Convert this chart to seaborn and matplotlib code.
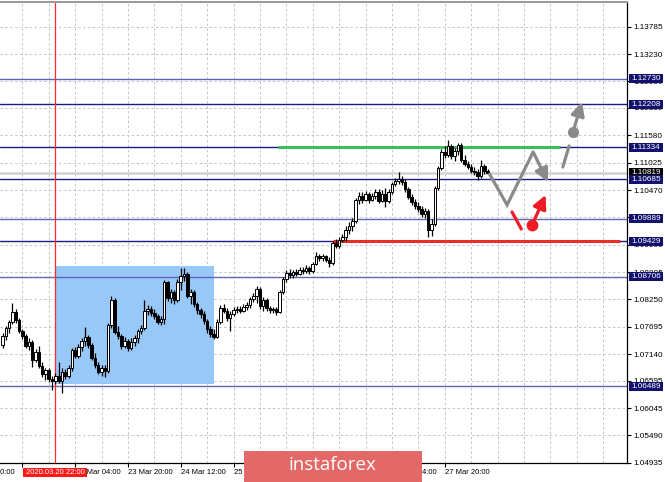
import matplotlib
matplotlib.use("Agg")
import matplotlib.pyplot as plt
import matplotlib.transforms as mtransforms
from matplotlib.patches import Rectangle
import seaborn as sns

sns.set_theme(style="white")
plt.rcParams['font.family'] = ['Liberation Sans', 'DejaVu Sans']

# ---------------- data ----------------
bars = list(range(-6, 142))  # hourly bar index (0 = 20 Mar 12:00)

opens = [
    1.0733, 1.0751, 1.0767, 1.0779, 1.0800, 1.0783,
    1.0761, 1.0751, 1.0731, 1.0739, 1.0702, 1.0718, 1.0690, 1.0674, 1.0682, 1.0664,
    1.0659, 1.0670, 1.0659, 1.0678, 1.0670, 1.0686, 1.0722, 1.0710, 1.0729, 1.0741,
    1.0749, 1.0733, 1.0706, 1.0692, 1.0678, 1.0686, 1.0680, 1.0773, 1.0824, 1.0759,
    1.0751, 1.0731, 1.0741, 1.0727, 1.0739, 1.0747, 1.0761, 1.0767, 1.0802, 1.0806,
    1.0798, 1.0791, 1.0779, 1.0785, 1.0860, 1.0828, 1.0840, 1.0824, 1.0860, 1.0873,
    1.0877, 1.0832, 1.0840, 1.0816, 1.0804, 1.0796, 1.0781, 1.0765, 1.0755, 1.0749,
    1.0779, 1.0808, 1.0802, 1.0787, 1.0796, 1.0804, 1.0806, 1.0802, 1.0810, 1.0814,
    1.0826, 1.0832, 1.0846, 1.0812, 1.0824, 1.0808, 1.0804, 1.0806, 1.0800, 1.0840,
    1.0867, 1.0879, 1.0875, 1.0881, 1.0877, 1.0885, 1.0883, 1.0889, 1.0883, 1.0897,
    1.0913, 1.0909, 1.0913, 1.0905, 1.0899, 1.0940, 1.0933, 1.0946, 1.0952, 1.0966,
    1.0974, 1.0984, 1.1027, 1.1035, 1.1027, 1.1039, 1.1027, 1.1035, 1.1043, 1.1025,
    1.1039, 1.1025, 1.1043, 1.1059, 1.1065, 1.1069, 1.1063, 1.1049, 1.1033, 1.1023,
    1.1015, 1.1009, 1.0998, 1.1004, 1.0966, 1.0978, 1.1051, 1.1092, 1.1124, 1.1118,
    1.1137, 1.1116, 1.1126, 1.1139, 1.1108, 1.1100, 1.1094, 1.1086, 1.1084, 1.1076,
    1.1096, 1.1086]

closes = [
    1.0751, 1.0767, 1.0779, 1.0800, 1.0783, 1.0761,
    1.0751, 1.0731, 1.0739, 1.0702, 1.0718, 1.0690, 1.0674, 1.0682, 1.0664, 1.0659,
    1.0670, 1.0659, 1.0678, 1.0670, 1.0686, 1.0722, 1.0710, 1.0729, 1.0741, 1.0749,
    1.0733, 1.0706, 1.0692, 1.0678, 1.0686, 1.0680, 1.0773, 1.0824, 1.0759, 1.0751,
    1.0731, 1.0741, 1.0727, 1.0739, 1.0747, 1.0761, 1.0767, 1.0802, 1.0806, 1.0798,
    1.0791, 1.0779, 1.0785, 1.0860, 1.0828, 1.0840, 1.0824, 1.0860, 1.0873, 1.0877,
    1.0832, 1.0840, 1.0816, 1.0804, 1.0796, 1.0781, 1.0765, 1.0755, 1.0749, 1.0779,
    1.0808, 1.0802, 1.0787, 1.0796, 1.0804, 1.0806, 1.0802, 1.0810, 1.0814, 1.0826,
    1.0832, 1.0846, 1.0812, 1.0824, 1.0808, 1.0804, 1.0806, 1.0800, 1.0840, 1.0867,
    1.0879, 1.0875, 1.0881, 1.0877, 1.0885, 1.0883, 1.0889, 1.0883, 1.0897, 1.0913,
    1.0909, 1.0913, 1.0905, 1.0899, 1.0940, 1.0933, 1.0946, 1.0952, 1.0966, 1.0974,
    1.0984, 1.1027, 1.1035, 1.1027, 1.1039, 1.1027, 1.1035, 1.1043, 1.1025, 1.1039,
    1.1025, 1.1043, 1.1059, 1.1065, 1.1069, 1.1063, 1.1049, 1.1033, 1.1023, 1.1015,
    1.1009, 1.0998, 1.1004, 1.0966, 1.0978, 1.1051, 1.1092, 1.1124, 1.1118, 1.1137,
    1.1116, 1.1126, 1.1139, 1.1108, 1.1100, 1.1094, 1.1086, 1.1084, 1.1076, 1.1096,
    1.1086, 1.10819]

highs = [
    1.0757, 1.0771, 1.0783, 1.0818, 1.0806, 1.0787,
    1.0765, 1.0755, 1.0747, 1.0743, 1.0725, 1.0731, 1.0698, 1.0686, 1.0686, 1.0670,
    1.0676, 1.0698, 1.0686, 1.0684, 1.0692, 1.0727, 1.0729, 1.0735, 1.0747, 1.0769,
    1.0753, 1.0737, 1.0716, 1.0698, 1.0692, 1.0692, 1.0777, 1.0832, 1.0828, 1.0771,
    1.0755, 1.0749, 1.0745, 1.0747, 1.0753, 1.0765, 1.0773, 1.0824, 1.0814, 1.0812,
    1.0806, 1.0796, 1.0791, 1.0864, 1.0862, 1.0846, 1.0844, 1.0867, 1.0889, 1.0889,
    1.0881, 1.0846, 1.0844, 1.0820, 1.0808, 1.0802, 1.0785, 1.0771, 1.0765, 1.0785,
    1.0814, 1.0816, 1.0808, 1.0802, 1.0810, 1.0812, 1.0812, 1.0816, 1.0820, 1.0830,
    1.0838, 1.0852, 1.0850, 1.0830, 1.0828, 1.0812, 1.0810, 1.0810, 1.0844, 1.0871,
    1.0885, 1.0887, 1.0885, 1.0887, 1.0891, 1.0891, 1.0895, 1.0893, 1.0901, 1.0921,
    1.0917, 1.0917, 1.0915, 1.0911, 1.0944, 1.0948, 1.0952, 1.0958, 1.0974, 1.0982,
    1.0990, 1.1031, 1.1043, 1.1043, 1.1045, 1.1043, 1.1041, 1.1049, 1.1049, 1.1047,
    1.1051, 1.1049, 1.1063, 1.1072, 1.1084, 1.1076, 1.1069, 1.1053, 1.1039, 1.1029,
    1.1023, 1.1015, 1.1011, 1.1009, 1.0988, 1.1055, 1.1096, 1.1131, 1.1137, 1.1149,
    1.1141, 1.1133, 1.1143, 1.1143, 1.1118, 1.1106, 1.1100, 1.1094, 1.1090, 1.1108,
    1.1100, 1.1090]

lows = [
    1.0727, 1.0743, 1.0757, 1.0775, 1.0777, 1.0757,
    1.0745, 1.0727, 1.0722, 1.0688, 1.0698, 1.0686, 1.0668, 1.0661, 1.0657, 1.0641,
    1.0653, 1.0655, 1.0635, 1.0664, 1.0666, 1.0680, 1.0706, 1.0706, 1.0720, 1.0731,
    1.0727, 1.0702, 1.0686, 1.0674, 1.0670, 1.0668, 1.0676, 1.0767, 1.0755, 1.0745,
    1.0725, 1.0727, 1.0720, 1.0722, 1.0731, 1.0737, 1.0755, 1.0763, 1.0793, 1.0791,
    1.0785, 1.0775, 1.0773, 1.0775, 1.0822, 1.0818, 1.0816, 1.0820, 1.0844, 1.0862,
    1.0828, 1.0816, 1.0810, 1.0796, 1.0787, 1.0775, 1.0757, 1.0749, 1.0745, 1.0747,
    1.0775, 1.0798, 1.0781, 1.0761, 1.0791, 1.0798, 1.0798, 1.0800, 1.0804, 1.0808,
    1.0820, 1.0818, 1.0806, 1.0802, 1.0802, 1.0798, 1.0798, 1.0793, 1.0798, 1.0836,
    1.0860, 1.0869, 1.0869, 1.0873, 1.0875, 1.0877, 1.0879, 1.0877, 1.0879, 1.0895,
    1.0903, 1.0903, 1.0901, 1.0891, 1.0895, 1.0929, 1.0929, 1.0942, 1.0944, 1.0958,
    1.0964, 1.0980, 1.1019, 1.1021, 1.1025, 1.1021, 1.1025, 1.1029, 1.1021, 1.1023,
    1.1013, 1.1021, 1.1039, 1.1055, 1.1059, 1.1057, 1.1043, 1.1029, 1.1017, 1.1009,
    1.1002, 1.0992, 1.0990, 1.0952, 1.0954, 1.0974, 1.1047, 1.1088, 1.1112, 1.1114,
    1.1110, 1.1106, 1.1118, 1.1104, 1.1096, 1.1090, 1.1082, 1.1078, 1.1067, 1.1072,
    1.1080, 1.1080]

price_ticks = [1.04935, 1.05490, 1.06045, 1.06595, 1.07140, 1.07695, 1.08250,
               1.08805, 1.09360, 1.09915, 1.10470, 1.11025, 1.11580, 1.12135,
               1.12680, 1.13230, 1.13785]

tick_bars = [0, 16, 32, 48, 64, 80, 96, 112, 128]
# time labels visible (fully or partly) on the axis
time_label_bars = [-16, 16, 32, 48, 64, 112, 128]
time_labels = ["19 Mar 20:00", "23 Mar 04:00", "23 Mar 20:00",
               "24 Mar 12:00", "25 Mar 04:00", "27 Mar 04:00", "27 Mar 20:00"]

level_values = [1.12730, 1.12208, 1.11334, 1.10685, 1.09889, 1.09429, 1.08706, 1.06489]
level_light = [True, False, False, False, True, False, True, True]
current_price = 1.10819

marked_bar = 10
marked_label = "2020.03.20 22:00"

range_box_bars = (10, 58.1)
range_box_prices = (1.06533, 1.08934)

resistance_level = 1.11334
resistance_span = (77.4, 162.9)
support_level = 1.09429
support_span = (94.1, 181.1)

# forecast sketch (bar, price)
gray_path_x = [141.4, 146.9, 154.8, 159.3]
gray_path_y = [1.10816, 1.10167, 1.11242, 1.10633]
gray_tick_x = [163.8, 165.7]
gray_tick_y = [1.10938, 1.11364]
gray_dot = (166.9, 1.11655)
gray_arrow_end = (169.6, 1.12257)
red_tick_x = [148.4, 151.2]
red_tick_y = [1.10024, 1.09679]
red_dot = (154.5, 1.09767)
red_arrow_end = (158.6, 1.10369)

# ---------------- figure ----------------
fig = plt.figure(figsize=(6.65, 4.82), dpi=100)
fig.patch.set_facecolor('white')
ax = fig.add_axes([0.0, 0.04004, 0.94286, 0.95643])
ax.set_facecolor('white')
ax.set_xlim(-6.76, 183.24)
ax.set_ylim(1.04935, 1.142924)

grid_kw = dict(color='#c4c4c4', lw=0.7, ls=(0, (2.5, 2.5)), zorder=0.6)
for g in range(0, 184, 8):
    ax.axvline(g, **grid_kw)
for t in price_ticks:
    ax.axhline(t, **grid_kw)

ax.add_patch(Rectangle((range_box_bars[0], range_box_prices[0]),
                       range_box_bars[1] - range_box_bars[0],
                       range_box_prices[1] - range_box_prices[0],
                       facecolor='#98c8f8', edgecolor='none', zorder=1))

ax.axhline(current_price, color='#d2d2d2', lw=1.8, zorder=1.8)
for lv, light in zip(level_values, level_light):
    ax.axhline(lv, color='#6464b4' if light else '#1c1c84', lw=1.0, zorder=2)

ax.axvline(marked_bar, color='#ff2a2a', lw=0.9, zorder=2.5)

ax.hlines(resistance_level, *resistance_span, color='#3cbf5a', lw=2.2, zorder=3)
ax.hlines(support_level, *support_span, color='#ee2b2b', lw=2.2, zorder=3)

# candles
ax.vlines(bars, lows, highs, color='black', lw=0.9, zorder=4)
bottoms = [min(o, c) for o, c in zip(opens, closes)]
heights = [max(abs(c - o), 0.00008) for o, c in zip(opens, closes)]
faces = ['white' if c >= o else 'black' for o, c in zip(opens, closes)]
ax.bar(bars, heights, bottom=bottoms, width=0.74, color=faces,
       edgecolor='black', linewidth=0.7, zorder=4.5)

# forecast sketch
gray = '#8a8a8a'
red = '#ee1c24'
ax.plot(gray_path_x[:3], gray_path_y[:3], color=gray, lw=2.3,
        solid_capstyle='butt', solid_joinstyle='miter', zorder=5)
arrow_kw = dict(arrowstyle='-|>,head_length=0.9,head_width=0.45', lw=2.3,
                shrinkA=0, shrinkB=0, mutation_scale=9)
ax.annotate('', xy=(gray_path_x[3], gray_path_y[3]),
            xytext=(gray_path_x[2], gray_path_y[2]),
            arrowprops=dict(color=gray, **arrow_kw), zorder=5)
ax.plot(gray_tick_x, gray_tick_y, color=gray, lw=2.3, zorder=5)
ax.annotate('', xy=gray_arrow_end, xytext=gray_dot,
            arrowprops=dict(color=gray, **arrow_kw), zorder=5)
ax.plot([gray_dot[0]], [gray_dot[1]], 'o', color=gray, ms=7, zorder=5)
ax.plot(red_tick_x, red_tick_y, color=red, lw=2.3, zorder=5)
ax.annotate('', xy=red_arrow_end, xytext=red_dot,
            arrowprops=dict(color=red, **arrow_kw), zorder=5)
ax.plot([red_dot[0]], [red_dot[1]], 'o', color=red, ms=7.5, zorder=5)

# spines
ax.spines['left'].set_visible(False)
ax.spines['top'].set_color('#9a9a9a')
ax.spines['top'].set_linewidth(1.4)
for s in ['right', 'bottom']:
    ax.spines[s].set_color('black')
    ax.spines[s].set_linewidth(0.9)

# y ticks on the right
ax.yaxis.tick_right()
ax.set_yticks(price_ticks)
ax.set_yticklabels([f"{t:.5f}" for t in price_ticks])
ax.tick_params(axis='y', right=True, left=False, length=3, width=0.8,
               pad=1.5, labelsize=5.9, colors='black')
ax.set_xticks(tick_bars)
ax.set_xticklabels([])
ax.tick_params(axis='x', bottom=True, length=3, width=0.8, colors='black')

tx = mtransforms.blended_transform_factory(ax.transData, ax.transAxes)
for b, lab in zip(time_label_bars, time_labels):
    ax.text(b + 0.15, -0.0205, lab, transform=tx, ha='left', va='center',
            fontsize=5.5, color='black', clip_on=False, zorder=3)

ax.add_patch(Rectangle((0.12, -0.0317), 19.58, 0.0208, transform=tx,
                       facecolor='#ff1a1a', edgecolor='none', clip_on=False, zorder=8))
ax.text(marked_bar, -0.0212, marked_label, transform=tx, ha='center', va='center',
        fontsize=5.5, color='white', clip_on=False, zorder=9)

# price label boxes
ty = mtransforms.blended_transform_factory(ax.transAxes, ax.transData)
bh = 0.00185
ax.add_patch(Rectangle((1.0024, current_price - bh / 2), 0.0545, bh, transform=ty,
                       facecolor='black', edgecolor='none', clip_on=False, zorder=6))
ax.text(1.0066, current_price, f"{current_price:.5f}", transform=ty, ha='left',
        va='center', fontsize=5.9, color='white', clip_on=False, zorder=6.2)
for lv in level_values:
    ax.add_patch(Rectangle((1.0024, lv - bh / 2), 0.0545, bh, transform=ty,
                           facecolor='#12126e', edgecolor='none', clip_on=False, zorder=6.5))
    ax.text(1.0066, lv, f"{lv:.5f}", transform=ty, ha='left', va='center',
            fontsize=5.9, color='white', clip_on=False, zorder=6.7)

# watermark banner
fig.patches.append(Rectangle((244 / 665, 0), 177.7 / 665, 31 / 482,
                             transform=fig.transFigure, facecolor='#e36868',
                             edgecolor='none', zorder=20))
fig.text(332 / 665, 16.5 / 482, 'instaforex', color='white', fontsize=13.5,
         family=['Open Sans', 'DejaVu Sans'], ha='center', va='center', zorder=21)

fig.savefig('out.png', dpi=100, facecolor='white')
